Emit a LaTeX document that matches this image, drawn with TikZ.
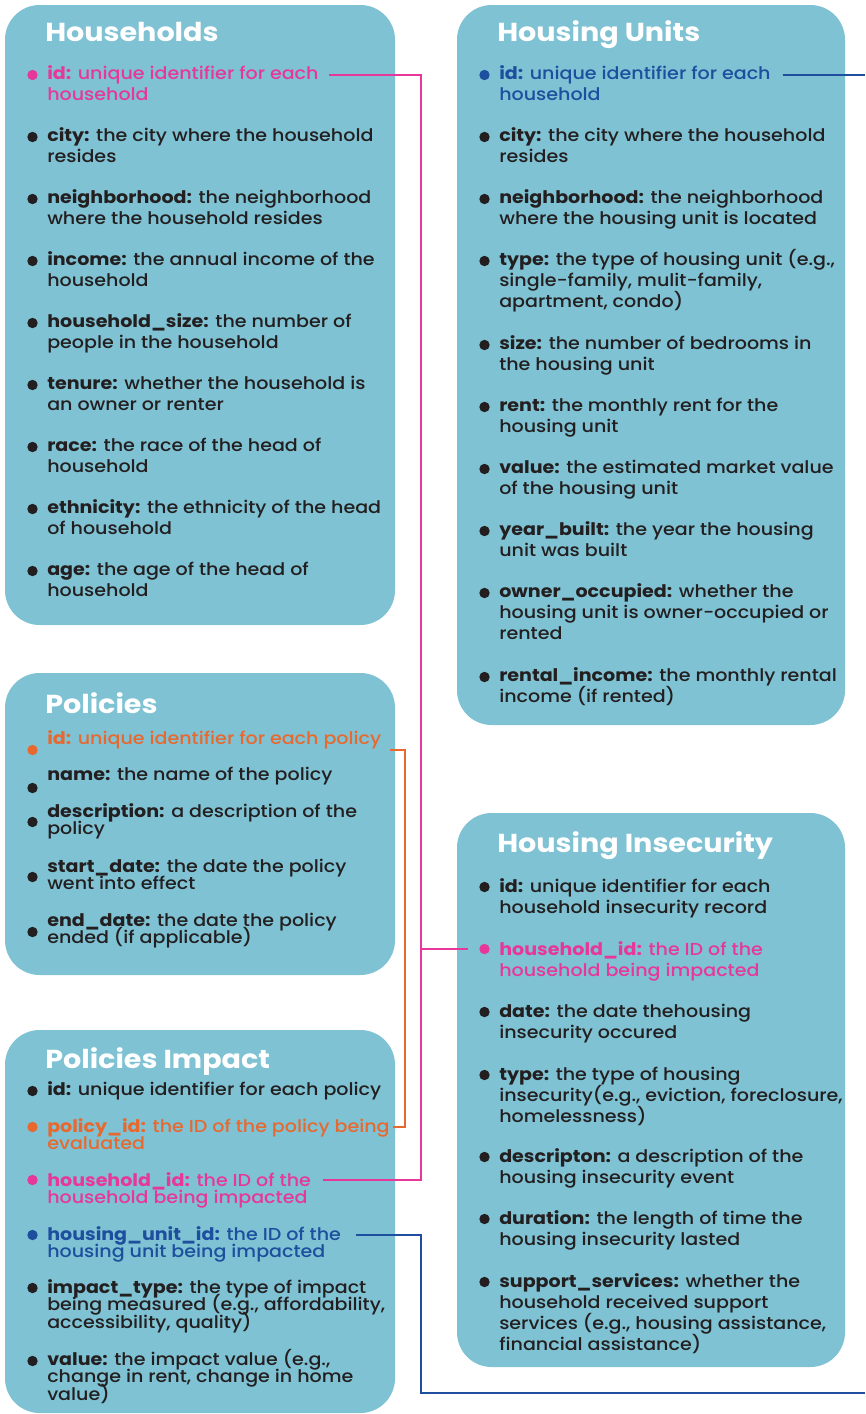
\documentclass[tikz,border=0pt]{standalone}
\usepackage{fontspec}
\setmainfont{Poppins}[UprightFont=* Medium, BoldFont=* Bold, FakeStretch=1.1]
\usetikzlibrary{positioning,calc}

\definecolor{panel}{HTML}{7EC2D3}
\definecolor{ink}{HTML}{231F20}
\definecolor{hhpink}{HTML}{E8379B}
\definecolor{polorange}{HTML}{E8692F}
\definecolor{unitblue}{HTML}{1D4F9E}

\tikzset{
  panel/.style={fill=panel, rounded corners=26pt},
  title/.style={anchor=base west, inner sep=0pt, text=white,
    font=\fontsize{19.5}{22}\selectfont\bfseries},
  field/.style={anchor=north west, yshift=12pt, inner sep=0pt, align=left,
    font={\fontsize{13}{15.75}\selectfont\lineskiplimit-20pt}},
  tight/.style={font={\fontsize{13}{13.1}\selectfont\lineskiplimit-20pt}},
  link/.style={line width=1.4pt},
}

% field of a table: [style] name, x, baseline y, bullet drop, colour, text
\newcommand{\field}[7][]{%
  \node[field, #1, text=#6] (#2) at (#3,#4) {\rule{0pt}{12pt}#7};
  \fill[#6] ([yshift=-12pt, shift={(-14.5,#5)}]#2.north west) circle (3.9pt);
}

\begin{document}
\begin{tikzpicture}[x=0.75pt, y=-0.75pt]
  \useasboundingbox (0,0) rectangle (865,1414);

  % table panels
  \fill[panel] (5,5) rectangle (395,625);
  \fill[panel] (457,5) rectangle (845,725);
  \fill[panel] (5,673) rectangle (395,975);
  \fill[panel] (5,1030) rectangle (395,1413);
  \fill[panel] (457,813) rectangle (845,1367);

  % Households
  \node[title] (hh) at (45,41) {Households};
  \field{hh-id}{47}{79}{-4}{hhpink}{\textbf{id:} unique identifier for each\\household}
  \field{hh-city}{47}{141}{-4}{ink}{\textbf{city:} the city where the household\\resides}
  \field{hh-nbhd}{47}{203}{-4}{ink}{\textbf{neighborhood:} the neighborhood\\where the household resides}
  \field{hh-inc}{47}{265}{-4}{ink}{\textbf{income:} the annual income of the\\household}
  \field{hh-size}{47}{327}{-4}{ink}{\textbf{household\_size:} the number of\\people in the household}
  \field{hh-ten}{47}{389}{-4}{ink}{\textbf{tenure:} whether the household is\\an owner or renter}
  \field{hh-race}{47}{451}{-4}{ink}{\textbf{race:} the race of the head of\\household}
  \field{hh-eth}{47}{513}{-4}{ink}{\textbf{ethnicity:} the ethnicity of the head\\of household}
  \field{hh-age}{47}{575}{-4}{ink}{\textbf{age:} the age of the head of\\household}

  % Housing Units
  \node[title] (hu) at (497,41) {Housing Units};
  \field{hu-id}{499}{79}{-4}{unitblue}{\textbf{id:} unique identifier for each\\household}
  \field{hu-city}{499}{141}{-4}{ink}{\textbf{city:} the city where the household\\resides}
  \field{hu-nbhd}{499}{203}{-4}{ink}{\textbf{neighborhood:} the neighborhood\\where the housing unit is located}
  \field{hu-type}{499}{265}{-4}{ink}{\textbf{type:} the type of housing unit (e.g.,\\single-family, mulit-family,\\apartment, condo)}
  \field{hu-size}{499}{349}{-4}{ink}{\textbf{size:} the number of bedrooms in\\the housing unit}
  \field{hu-rent}{499}{411}{-4}{ink}{\textbf{rent:} the monthly rent for the\\housing unit}
  \field{hu-val}{499}{473}{-4}{ink}{\textbf{value:} the estimated market value\\of the housing unit}
  \field{hu-year}{499}{535}{-4}{ink}{\textbf{year\_built:} the year the housing\\unit was built}
  \field{hu-own}{499}{597}{-4}{ink}{\textbf{owner\_occupied:} whether the\\housing unit is owner-occupied or\\rented}
  \field{hu-rinc}{499}{681}{-4}{ink}{\textbf{rental\_income:} the monthly rental\\income (if rented)}

  % Policies
  \node[title] (po) at (45,713) {Policies};
  \field[tight]{po-id}{47}{744}{6}{polorange}{\textbf{id:} unique identifier for each policy}
  \field[tight]{po-name}{47}{780}{8}{ink}{\textbf{name:} the name of the policy}
  \field[tight]{po-desc}{47}{817}{5}{ink}{\textbf{description:} a description of the\\policy}
  \field[tight]{po-start}{47}{872}{5}{ink}{\textbf{start\_date:} the date the policy\\went into effect}
  \field[tight]{po-end}{47}{926}{6}{ink}{\textbf{end\_date:} the date the policy\\ended (if applicable)}

  % Policies Impact
  \node[title] (pi) at (45,1068) {Policies Impact};
  \field[tight]{pi-id}{47}{1095}{-4}{ink}{\textbf{id:} unique identifier for each policy}
  \field[tight]{pi-pol}{47}{1132}{-5}{polorange}{\textbf{policy\_id:} the ID of the policy being\\evaluated}
  \field[tight]{pi-hh}{47}{1186}{-6}{hhpink}{\textbf{household\_id:} the ID of the\\household being impacted}
  \field[tight]{pi-hu}{47}{1240}{-5}{unitblue}{\textbf{housing\_unit\_id:} the ID of the\\housing unit being impacted}
  \field[tight]{pi-type}{47}{1293}{-5}{ink}{\textbf{impact\_type:} the type of impact\\being measured (e.g., affordability,\\accessibility, quality)}
  \field[tight]{pi-val}{47}{1365}{-4}{ink}{\textbf{value:} the impact value (e.g.,\\change in rent, change in home\\value)}

  % Housing Insecurity
  \node[title] (hi) at (497,852) {Housing Insecurity};
  \field{hi-id}{499}{892}{-5}{ink}{\textbf{id:} unique identifier for each\\household insecurity record}
  \field{hi-hh}{499}{955}{-6}{hhpink}{\textbf{household\_id:} the ID of the\\household being impacted}
  \field{hi-date}{499}{1017}{-5}{ink}{\textbf{date:} the date thehousing\\insecurity occured}
  \field{hi-type}{499}{1080}{-5}{ink}{\textbf{type:} the type of housing\\insecurity(e.g., eviction, foreclosure,\\homelessness)}
  \field{hi-desc}{499}{1162}{-5}{ink}{\textbf{descripton:} a description of the\\housing insecurity event}
  \field{hi-dur}{499}{1224}{-5}{ink}{\textbf{duration:} the length of time the\\housing insecurity lasted}
  \field{hi-sup}{499}{1287}{-5}{ink}{\textbf{support\_services:} whether the\\household received support\\services (e.g., housing assistance,\\financial assistance)}

  % link ends
  \coordinate (pbus) at (421,0);
  \coordinate (obus) at (405,0);
  \coordinate (rim) at (865,0);
  \coordinate (bbus) at (421,1393);
  \coordinate (bend) at (865,1393);
  \coordinate (hhA) at ([yshift=-12pt, shift={(10,-4)}]hh-id.north east);
  \coordinate (piA) at ([yshift=-12pt, shift={(12,-6)}]pi-hh.north east);
  \coordinate (hiA) at ([yshift=-12pt, shift={(-31,-6)}]hi-hh.north west);
  \coordinate (poA) at ([yshift=-12pt, shift={(8,6)}]po-id.north east);
  \coordinate (poB) at ([yshift=-12pt, shift={(3,-5)}]pi-pol.north east);
  \coordinate (huA) at ([yshift=-12pt, shift={(12,-4)}]hu-id.north east);
  \coordinate (huB) at ([yshift=-12pt, shift={(15,-5)}]pi-hu.north east);

  % household id
  \draw[link, hhpink] (hhA) -| (pbus |- piA) -- (piA);
  \draw[link, hhpink] (pbus |- hiA) -- (hiA);
  % policy id
  \draw[link, polorange] (poA) -| (obus |- poB) -- (poB);
  % housing unit id
  \draw[link, unitblue] (huA) -- (huA -| rim);
  \draw[link, unitblue] (huB) -| (bbus) -- (bend);
\end{tikzpicture}
\end{document}
